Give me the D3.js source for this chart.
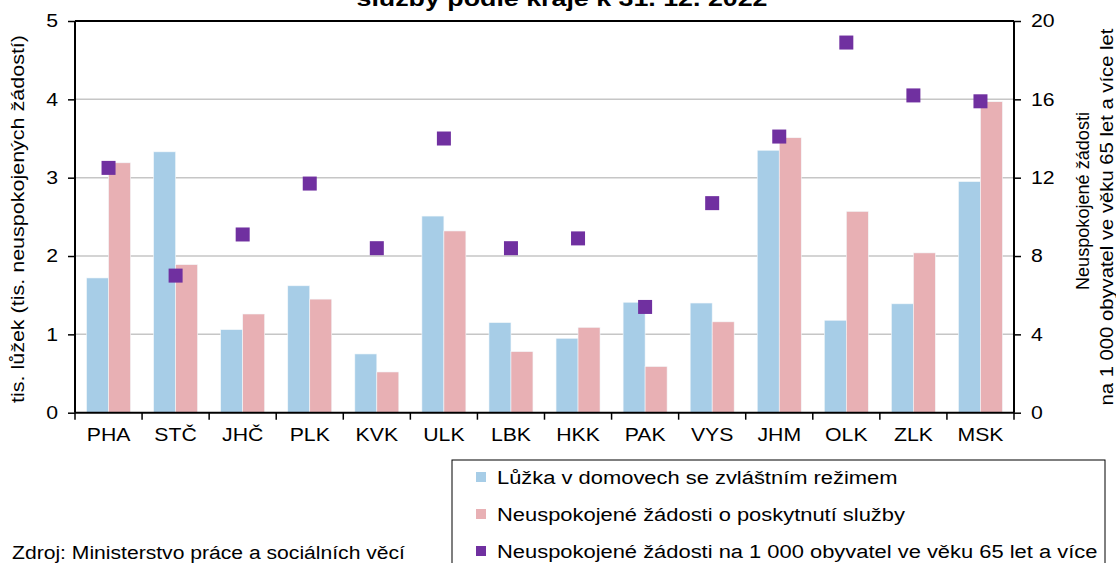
<!DOCTYPE html>
<html><head><meta charset="utf-8">
<script src="https://cdn.jsdelivr.net/npm/d3@7"></script>
<style>body{margin:0;background:#fff}svg{display:block;font-family:"Liberation Sans",Arial,sans-serif}</style>
</head><body><svg id="c" width="1116" height="563"></svg>
<script>
const categories = ["PHA","STČ","JHČ","PLK","KVK","ULK","LBK","HKK","PAK","VYS","JHM","OLK","ZLK","MSK"];
const beds = [1.72,3.33,1.06,1.62,0.75,2.51,1.15,0.95,1.41,1.40,3.35,1.18,1.39,2.95];
const unmet = [3.19,1.89,1.26,1.45,0.52,2.32,0.78,1.09,0.59,1.16,3.51,2.57,2.04,3.97];
const unmetPer1000 = [12.5,7.0,9.1,11.7,8.4,14.0,8.4,8.9,5.4,10.7,14.1,18.9,16.2,15.9];
const leftTicks = [0,1,2,3,4,5];
const rightTicks = [0,4,8,12,16,20];
const seriesNames = ["Lůžka v domovech se zvláštním režimem","Neuspokojené žádosti o poskytnutí služby","Neuspokojené žádosti na 1 000 obyvatel ve věku 65 let a více"];
const colors = ["#a7cde7","#e8b0b4","#7030a0"];

const svg = d3.select("#c");
const L = 75, R = 1014, T = 21, B = 412.7;
const x = d3.scaleBand().domain(categories).range([L,R]).paddingInner(0).paddingOuter(0);
const yL = d3.scaleLinear().domain([0,5]).range([B,T]);
const yR = d3.scaleLinear().domain([0,20]).range([B,T]);

function stretch(sel, k){
  sel.each(function(){
    const w = this.getComputedTextLength();
    d3.select(this).attr("textLength", w*k).attr("lengthAdjust","spacingAndGlyphs");
  });
}
function fixLen(sel, len){
  sel.attr("textLength", len).attr("lengthAdjust","spacingAndGlyphs");
}

// gridlines
svg.append("g").selectAll("line").data(leftTicks.filter(d=>d>0&&d<5)).join("line")
  .attr("x1",L).attr("x2",R).attr("y1",d=>yL(d)).attr("y2",d=>yL(d))
  .attr("stroke","#c6c6c6").attr("stroke-width",1.5);

// bars
const bw = x.bandwidth()*0.328;
const off = (x.bandwidth()-2*bw)/2;
[beds,unmet].forEach((arr,si)=>{
  svg.append("g").selectAll("rect").data(arr).join("rect")
    .attr("x",(d,i)=>x(categories[i])+off+si*bw)
    .attr("y",d=>yL(d)).attr("width",bw).attr("height",d=>B-yL(d))
    .attr("fill",colors[si]).attr("stroke","#f4f8fb").attr("stroke-width",0.6);
});

// markers
const ms = 14;
svg.append("g").selectAll("rect").data(unmetPer1000).join("rect")
  .attr("x",(d,i)=>x(categories[i])+x.bandwidth()/2-ms/2)
  .attr("y",d=>yR(d)-ms/2).attr("width",ms).attr("height",ms).attr("fill",colors[2]);

// axes
const fs = "18px";
const axL = svg.append("g").attr("transform",`translate(${L},0)`)
  .call(d3.axisLeft(yL).tickValues(leftTicks).tickSize(7).tickPadding(10).tickFormat(d3.format("d")));
const axR = svg.append("g").attr("transform",`translate(${R},0)`)
  .call(d3.axisRight(yR).tickValues(rightTicks).tickSize(7).tickPadding(10).tickFormat(d3.format("d")));
const axB = svg.append("g").attr("transform",`translate(0,${B})`)
  .call(d3.axisBottom(x).tickSize(0).tickPadding(16));
[axL,axR,axB].forEach(a=>{
  a.selectAll("text").attr("font-size",fs).attr("fill","#000").attr("font-family","Liberation Sans, Arial, sans-serif");
  a.selectAll("line").attr("stroke","#000").attr("stroke-width",1.5);
  a.select(".domain").attr("stroke","#000").attr("stroke-width",2);
  stretch(a.selectAll("text"), 1.18);
});
axB.select(".domain").attr("d",`M${L},0H${R}`);
axL.select(".domain").attr("d",`M0,${B}V${T}`);
axR.select(".domain").attr("d",`M0,${B}V${T}`);
// boundary ticks on bottom axis
const bounds = categories.map(c=>x(c)).concat([R]);
axB.append("g").selectAll("line").data(bounds).join("line")
  .attr("x1",d=>d).attr("x2",d=>d).attr("y1",0).attr("y2",7).attr("stroke","#000").attr("stroke-width",1.5);
// top border
svg.append("line").attr("x1",L).attr("x2",R).attr("y1",T).attr("y2",T).attr("stroke","#000").attr("stroke-width",2);

// titles
svg.append("text").attr("x",562).attr("y",6).attr("text-anchor","middle")
  .attr("font-size","22px").attr("font-weight","bold").text("služby podle kraje k 31. 12. 2022")
  .call(fixLen, 411);
svg.append("text").attr("transform","translate(24,219) rotate(-90)").attr("text-anchor","middle")
  .attr("font-size",fs).text("tis. lůžek (tis. neuspokojených žádostí)").call(fixLen, 368);
svg.append("text").attr("transform","translate(1089,201) rotate(-90)").attr("text-anchor","middle")
  .attr("font-size",fs).text("Neuspokojené žádosti").call(fixLen, 178);
svg.append("text").attr("transform","translate(1113,217) rotate(-90)").attr("text-anchor","middle")
  .attr("font-size",fs).text("na 1 000 obyvatel ve věku 65 let a více let").call(fixLen, 377);

// legend
svg.append("rect").attr("x",452).attr("y",460).attr("width",653).attr("height",120)
  .attr("fill","#fff").attr("stroke","#000").attr("stroke-width",1);
const lg = svg.append("g").selectAll("g").data(seriesNames).join("g")
  .attr("transform",(d,i)=>`translate(476,${477+i*37})`);
lg.append("rect").attr("x",0).attr("y",-5).attr("width",10).attr("height",10).attr("fill",(d,i)=>colors[i]);
lg.append("text").attr("x",21).attr("y",6.5).attr("font-size",fs).text(d=>d).call(stretch, 1.217);

// source
svg.append("text").attr("x",12).attr("y",559).attr("font-size","18px").text("Zdroj: Ministerstvo práce a sociálních věcí")
  .call(fixLen, 393);
</script></body></html>
